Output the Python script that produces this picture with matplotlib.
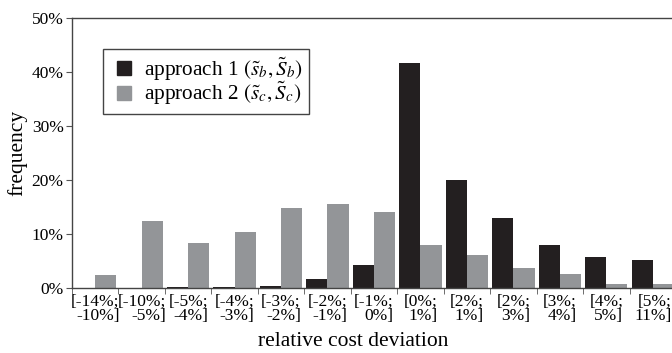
import matplotlib.pyplot as plt
from matplotlib.lines import Line2D
import numpy as np

plt.rcParams['font.family'] = ['Liberation Serif', 'DejaVu Serif']
plt.rcParams['mathtext.fontset'] = 'stix'

categories = ['[-14%;\n-10%]', '[-10%;\n-5%]', '[-5%;\n-4%]', '[-4%;\n-3%]',
              '[-3%;\n-2%]', '[-2%;\n-1%]', '[-1%;\n0%]', '[0%;\n1%]',
              '[2%;\n1%]', '[2%;\n3%]', '[3%;\n4%]', '[4%;\n5%]', '[5%;\n11%]']
approach1 = [0.0, 0.0, 0.2, 0.2, 0.4, 1.7, 4.3, 41.7, 20.0, 13.0, 8.0, 5.7, 5.2]
approach2 = [2.4, 12.4, 8.3, 10.4, 14.8, 15.5, 14.1, 8.0, 6.1, 3.7, 2.6, 0.7, 0.7]
labels = [r'approach 1 $(\tilde{s}_b, \tilde{S}_b)$',
          r'approach 2 $(\tilde{s}_c, \tilde{S}_c)$']

BLACK = '#231f20'
GRAY = '#939598'

fig = plt.figure(figsize=(6.72, 3.53), dpi=100)
ax = fig.add_axes([0.107, 0.184, 0.899, 0.765])

x = np.arange(len(categories))
w = 0.455
ax.bar(x - w / 2, approach1, width=w, color=BLACK)
ax.bar(x + w / 2, approach2, width=w, color=GRAY)

ax.set_xlim(-0.5, len(categories) - 0.5)
ax.set_ylim(0, 50)
ax.set_yticks(range(0, 51, 10))
ax.set_yticklabels([f'{v}%' for v in range(0, 51, 10)], fontsize=12.5)

# category labels centred, tick marks on the boundaries
ax.set_xticks(x)
ax.set_xticklabels(categories, fontsize=12.5, multialignment='right', linespacing=0.85)
ax.tick_params(axis='x', which='major', length=0, pad=4)
ax.set_xticks(np.arange(-0.5, len(categories) - 0.5, 1), minor=True)
ax.tick_params(axis='x', which='minor', length=4, direction='out', color='#555555')
ax.tick_params(axis='y', length=4, direction='out', color='#555555', pad=2)

for side in ['top', 'left', 'bottom']:
    ax.spines[side].set_color('#444444')
    ax.spines[side].set_linewidth(1.0)
ax.spines['right'].set_visible(False)

ax.set_ylabel('frequency', fontsize=15.5, labelpad=3)
ax.set_xlabel('relative cost deviation', fontsize=15.5)
ax.xaxis.set_label_coords(0.465, -0.163)

handles = [Line2D([], [], ls='none', marker='s', markersize=9.4,
                  markerfacecolor=c, markeredgecolor=c) for c in (BLACK, GRAY)]
leg = ax.legend(handles, labels, loc='upper left', bbox_to_anchor=(0.051, 0.885),
                fontsize=15.3, fancybox=False, edgecolor='#444444', framealpha=1,
                handlelength=1.4, handletextpad=0.25,
                borderpad=0.3, labelspacing=-0.12, borderaxespad=0)
leg.get_frame().set_linewidth(1.0)

plt.savefig('out.png', dpi=100, facecolor='white')
plt.close()
